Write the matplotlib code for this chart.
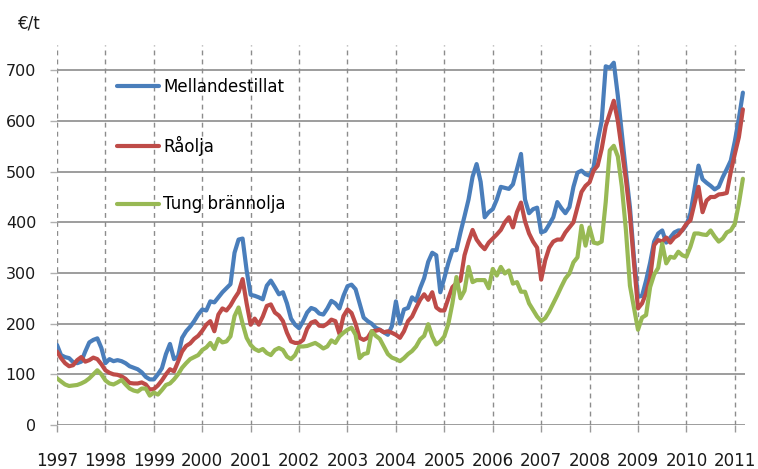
import matplotlib
matplotlib.use('Agg')
import matplotlib.pyplot as plt
import numpy as np

start_year = 1997
years = list(range(1997, 2012))
year_labels = [str(y) for y in years]
y_ticks = [0, 100, 200, 300, 400, 500, 600, 700]
series_names = ["Mellandestillat", "Råolja", "Tung brännolja"]

# Monthly values, Jan 1997 - Mar 2011 (€/t)
mellandestillat = [
    158, 138, 134, 132, 124, 122, 125, 145, 163, 168, 171, 152,   # 1997
    122, 130, 126, 128, 126, 122, 116, 113, 110, 104, 95, 90,     # 1998
    90, 100, 112, 140, 160, 130, 135, 172, 185, 194, 205, 218,    # 1999
    228, 226, 244, 242, 252, 262, 270, 278, 340, 366, 368, 305,   # 2000
    257, 255, 252, 248, 275, 285, 272, 258, 262, 240, 210, 198,   # 2001
    191, 205, 222, 231, 228, 220, 218, 230, 245, 240, 230, 255,   # 2002
    274, 277, 268, 240, 212, 205, 200, 192, 188, 183, 178, 195,   # 2003
    244, 200, 228, 231, 252, 245, 270, 290, 322, 340, 335, 262,   # 2004
    290, 320, 345, 345, 380, 412, 445, 490, 515, 480, 410, 420,   # 2005
    426, 445, 470, 468, 466, 475, 505, 535, 445, 418, 426, 429,   # 2006
    380, 383, 396, 410, 440, 428, 418, 430, 470, 498, 502, 495,   # 2007
    492, 509, 560, 600, 708, 705, 715, 650, 574, 500, 430, 330,   # 2008
    253, 255, 285, 320, 362, 378, 384, 360, 370, 380, 384, 384,   # 2009
    395, 418, 465, 512, 485, 478, 472, 465, 470, 489, 505, 522,   # 2010
    560, 605, 656,                                                # 2011
]
raolja = [
    145, 132, 122, 116, 118, 128, 134, 125, 128, 133, 130, 120,
    108, 103, 100, 99, 96, 91, 83, 82, 82, 84, 80, 70,
    71, 78, 88, 100, 110, 106, 125, 145, 156, 161, 170, 176,
    186, 198, 205, 185, 218, 230, 226, 236, 250, 262, 288, 240,
    198, 210, 198, 214, 235, 238, 222, 216, 205, 182, 165, 162,
    162, 168, 190, 202, 205, 196, 195, 200, 208, 205, 180, 215,
    228, 221, 200, 172, 168, 172, 185, 186, 188, 183, 185, 182,
    178, 172, 185, 205, 214, 231, 247, 258, 247, 262, 232, 226,
    226, 250, 272, 280, 285, 335, 362, 385, 366, 355, 347, 360,
    368, 376, 385, 400, 410, 390, 420, 439, 402, 378, 362, 350,
    287, 325, 350, 362, 366, 366, 380, 390, 400, 430, 460, 472,
    479, 502, 512, 545, 590, 615, 640, 600, 542, 485, 415, 320,
    230, 240, 260, 290, 355, 365, 362, 370, 360, 370, 375, 385,
    397, 404, 437, 470, 420, 443, 450, 450, 455, 456, 458, 500,
    535, 568, 623,
]
tung_brannolja = [
    92, 86, 80, 77, 78, 79, 82, 86, 92, 100, 108, 100,
    88, 82, 80, 84, 89, 80, 72, 68, 66, 72, 72, 58,
    64, 60, 69, 79, 82, 90, 100, 113, 122, 130, 134, 138,
    148, 153, 162, 150, 170, 163, 165, 175, 215, 232, 200, 172,
    158, 150, 146, 150, 142, 138, 148, 152, 148, 135, 130, 138,
    155, 155, 156, 159, 162, 157, 151, 155, 167, 162, 175, 182,
    188, 192, 178, 132, 140, 142, 185, 176, 170, 155, 140, 133,
    130, 126, 132, 140, 146, 155, 169, 176, 199, 175, 159, 165,
    175, 200, 240, 292, 250, 265, 312, 282, 286, 286, 286, 270,
    308, 295, 312, 299, 305, 279, 282, 263, 263, 240, 227, 214,
    205, 211, 224, 240, 256, 273, 289, 299, 321, 331, 393, 354,
    390, 360, 358, 362, 440, 542, 551, 530, 470, 385, 275, 232,
    188, 212, 217, 272, 297, 310, 358, 319, 332, 330, 342, 335,
    332, 352, 378, 378, 376, 375, 384, 372, 362, 368, 380, 384,
    397, 437, 486,
]

colors = ['#4A7EBB', '#BE4B48', '#98B954']

W, H = 758, 469
fig = plt.figure(figsize=(W / 100, H / 100), dpi=100)
ax = fig.add_axes([57 / W, 1 - 425 / H, (745 - 57) / W, (425 - 45) / H])

t = start_year + np.arange(len(mellandestillat)) / 12.0
for vals, col, name in zip([mellandestillat, raolja, tung_brannolja], colors, series_names):
    ax.plot(t, vals, color=col, lw=3.0, solid_joinstyle='round',
            solid_capstyle='round', label=name, zorder=3)

ax.set_xlim(1997, 2011.21)
ax.set_ylim(0, 750)
ax.set_yticks(y_ticks)
ax.set_xticks(years)
ax.set_xticklabels(year_labels)

ax.grid(axis='y', color='#8C8C8C', lw=1.2, ls='-')
ax.grid(axis='x', color='#8C8C8C', lw=1.0, ls=(0, (3.5, 3)))
ax.set_axisbelow(True)
for s in ax.spines.values():
    s.set_visible(False)

ax.tick_params(axis='x', length=5, width=1, color='#9A9A9A', pad=14.5,
               labelsize=12, labelcolor='#1a1a1a')
ax.tick_params(axis='y', length=5, width=1, color='#B0B0B0', pad=10,
               labelsize=11.5, labelcolor='#1a1a1a')

fig.text(18 / W, 1 - 24 / H, '€/t', fontsize=12, ha='left', va='center', color='#1a1a1a')

leg = ax.legend(loc='upper left', bbox_to_anchor=(116.7 / W, 1 - 77.6 / H),
                bbox_transform=fig.transFigure, frameon=False, fontsize=12,
                handlelength=2.55, handletextpad=0.25, labelspacing=2.39,
                borderpad=0, borderaxespad=0)
for line in leg.get_lines():
    line.set_linewidth(3.0)

fig.savefig('out.png', dpi=100)
